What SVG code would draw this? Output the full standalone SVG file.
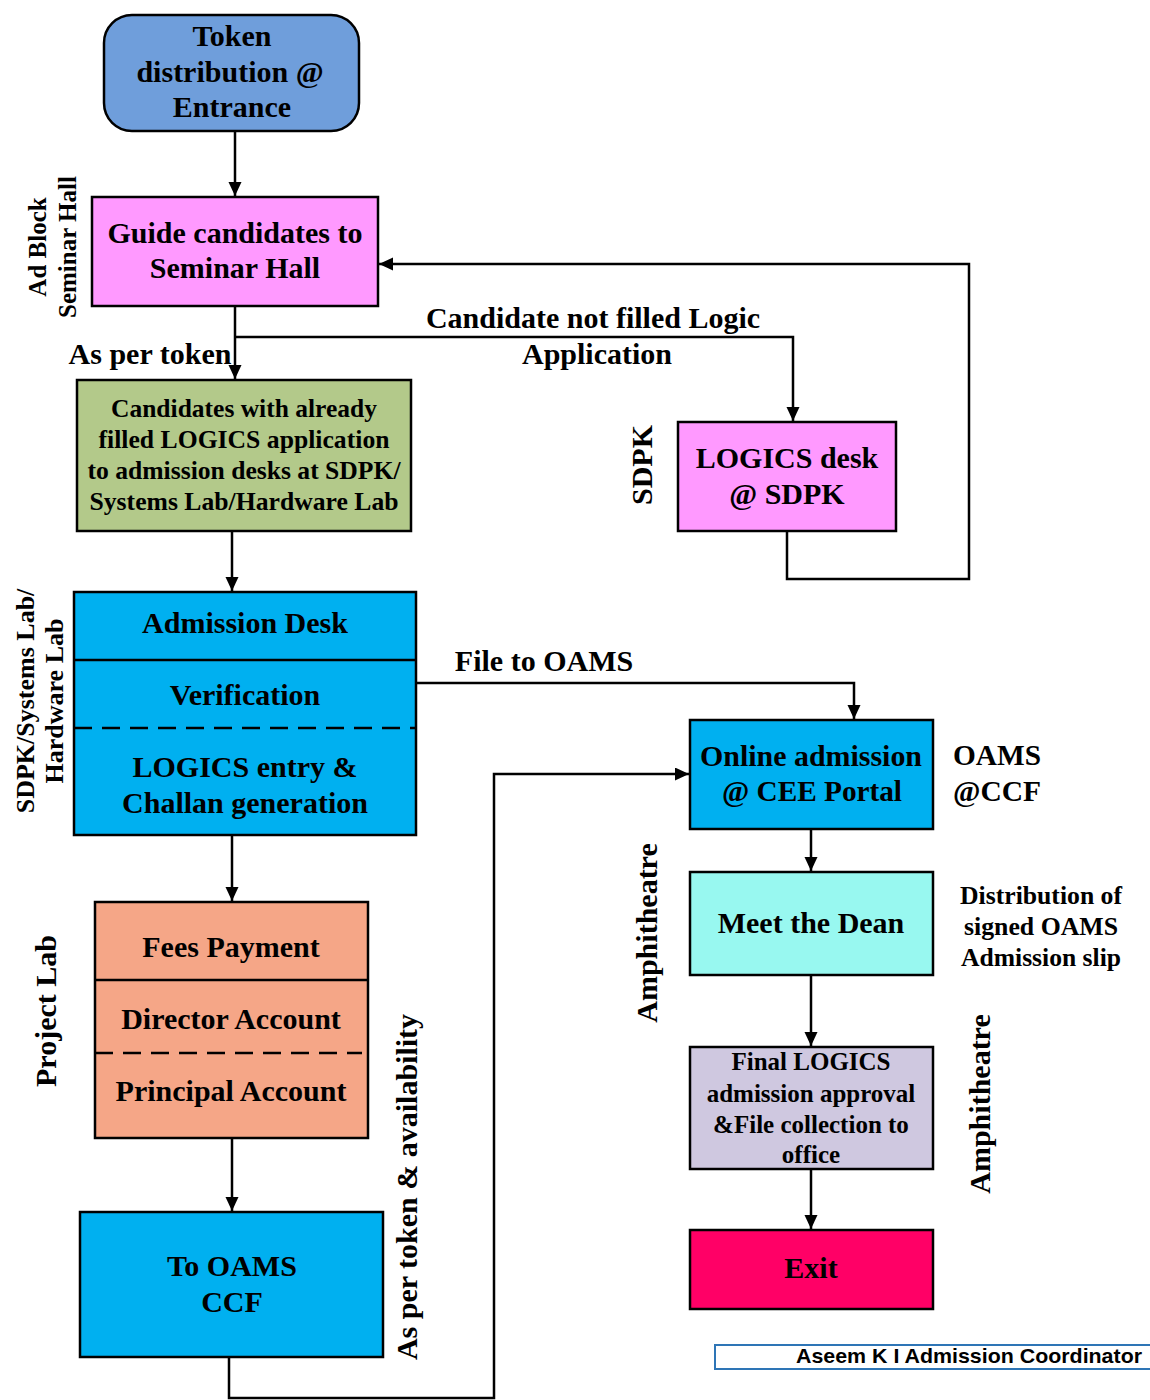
<svg xmlns="http://www.w3.org/2000/svg" width="1150" height="1400" viewBox="0 0 1150 1400">
<style>
.t{font-family:"Liberation Serif","Times New Roman",serif;font-weight:bold;fill:#000;text-anchor:middle}
.f30{font-size:30px}
.f25{font-size:25px}
.f26{font-size:26px}
.box{stroke:#000;stroke-width:2.5}
.ln{fill:none;stroke:#000;stroke-width:2.5}
.dash{fill:none;stroke:#000;stroke-width:2.5;stroke-dasharray:18 10}
.lab{font-family:"Liberation Serif","Times New Roman",serif;font-weight:bold;fill:#000;text-anchor:middle}
</style>
<defs>
<marker id="ah" markerUnits="userSpaceOnUse" markerWidth="15" markerHeight="14" refX="14" refY="6.5" orient="auto">
<path d="M0,0 L14,6.5 L0,13 z" fill="#000"/>
</marker>
</defs>
<rect width="1150" height="1400" fill="#fff"/>

<g id="connectors">
<line class="ln" x1="235" y1="131" x2="235" y2="196" marker-end="url(#ah)"/>
<line class="ln" x1="235" y1="306" x2="235" y2="379" marker-end="url(#ah)"/>
<polyline class="ln" points="235,337 793,337 793,421" marker-end="url(#ah)"/>
<polyline class="ln" points="787,531 787,579 969,579 969,264 379,264" marker-end="url(#ah)"/>
<line class="ln" x1="232" y1="531" x2="232" y2="591" marker-end="url(#ah)"/>
<polyline class="ln" points="416,683 854,683 854,719" marker-end="url(#ah)"/>
<line class="ln" x1="232" y1="835" x2="232" y2="901" marker-end="url(#ah)"/>
<line class="ln" x1="232" y1="1138" x2="232" y2="1211" marker-end="url(#ah)"/>
<polyline class="ln" points="229,1357 229,1398 494,1398 494,774 689,774" marker-end="url(#ah)"/>
<line class="ln" x1="811" y1="829" x2="811" y2="871" marker-end="url(#ah)"/>
<line class="ln" x1="811" y1="975" x2="811" y2="1046" marker-end="url(#ah)"/>
<line class="ln" x1="811" y1="1169" x2="811" y2="1229" marker-end="url(#ah)"/>
<text class="t f30" x="593" y="328">Candidate not filled Logic</text>
<text class="t f30" x="597" y="364">Application</text>
<text class="t f30" x="150" y="364">As per token</text>
<text class="t f30" x="544" y="671">File to OAMS</text>
<text class="lab f30" transform="translate(417,1187) rotate(-90)">As per token &amp; availability</text>
</g>

<g id="token">
<rect class="box" x="104" y="15" width="255" height="116" rx="28" fill="#6f9edb"/>
<text class="t f30" x="232" y="46">Token</text>
<text class="t f30" x="230" y="82">distribution @</text>
<text class="t f30" x="232" y="117">Entrance</text>
</g>

<g id="guide">
<rect class="box" x="92" y="197" width="286" height="109" fill="#ff99ff"/>
<text class="t f30" x="235" y="243">Guide candidates to</text>
<text class="t f30" x="235" y="278">Seminar Hall</text>
<text class="lab f25" transform="translate(46,247) rotate(-90)">Ad Block</text>
<text class="lab f25" transform="translate(76,247) rotate(-90)">Seminar Hall</text>
</g>

<g id="filled">
<rect class="box" x="77" y="380" width="334" height="151" fill="#b3c98a"/>
<text class="t f25" x="244" y="417" textLength="266" lengthAdjust="spacingAndGlyphs">Candidates with already</text>
<text class="t f25" x="244" y="448" textLength="291" lengthAdjust="spacingAndGlyphs">filled LOGICS application</text>
<text class="t f25" x="244" y="479" textLength="313" lengthAdjust="spacingAndGlyphs">to admission desks at SDPK/</text>
<text class="t f25" x="244" y="510" textLength="309" lengthAdjust="spacingAndGlyphs">Systems Lab/Hardware Lab</text>
</g>

<g id="logicsdesk">
<rect class="box" x="678" y="422" width="218" height="109" fill="#ff99ff"/>
<text class="t f30" x="787" y="468">LOGICS desk</text>
<text class="t f30" x="787" y="504">@ SDPK</text>
<text class="lab f30" transform="translate(652,465) rotate(-90)">SDPK</text>
</g>

<g id="admission">
<rect class="box" x="74" y="592" width="342" height="243" fill="#00b0f0"/>
<line class="ln" x1="74" y1="660" x2="416" y2="660"/>
<line class="dash" x1="74" y1="728" x2="416" y2="728"/>
<text class="t f30" x="245" y="633">Admission Desk</text>
<text class="t f30" x="245" y="705">Verification</text>
<text class="t f30" x="245" y="777">LOGICS entry &amp;</text>
<text class="t f30" x="245" y="813">Challan generation</text>
<text class="lab f26" transform="translate(34,701) rotate(-90)">SDPK/Systems Lab/</text>
<text class="lab f26" transform="translate(63,701) rotate(-90)">Hardware Lab</text>
</g>

<g id="fees">
<rect class="box" x="95" y="902" width="273" height="236" fill="#f5a687"/>
<line class="ln" x1="95" y1="980" x2="368" y2="980"/>
<line class="dash" x1="95" y1="1053" x2="362" y2="1053"/>
<text class="t f30" x="231" y="957">Fees Payment</text>
<text class="t f30" x="231" y="1029">Director Account</text>
<text class="t f30" x="231" y="1101">Principal Account</text>
<text class="lab f30" transform="translate(56,1011) rotate(-90)">Project Lab</text>
</g>

<g id="tooams">
<rect class="box" x="80" y="1212" width="303" height="145" fill="#00b0f0"/>
<text class="t f30" x="232" y="1276">To OAMS</text>
<text class="t f30" x="232" y="1312">CCF</text>
</g>

<g id="online">
<rect class="box" x="690" y="720" width="243" height="109" fill="#00b0f0"/>
<text class="t f30" x="811" y="766" textLength="222" lengthAdjust="spacingAndGlyphs">Online admission</text>
<text class="t f30" x="812" y="801" textLength="180" lengthAdjust="spacingAndGlyphs">@ CEE Portal</text>
<text class="t f30" x="997" y="765" textLength="88" lengthAdjust="spacingAndGlyphs">OAMS</text>
<text class="t f30" x="997" y="801" textLength="88" lengthAdjust="spacingAndGlyphs">@CCF</text>
</g>

<g id="dean">
<rect class="box" x="690" y="872" width="243" height="103" fill="#98f8f0"/>
<text class="t f30" x="811" y="933">Meet the Dean</text>
<text class="t f26" x="1041" y="904" textLength="162" lengthAdjust="spacingAndGlyphs">Distribution of</text>
<text class="t f26" x="1041" y="935" textLength="154" lengthAdjust="spacingAndGlyphs">signed OAMS</text>
<text class="t f26" x="1041" y="966" textLength="160" lengthAdjust="spacingAndGlyphs">Admission slip</text>
<text class="lab f30" transform="translate(657,933) rotate(-90)">Amphitheatre</text>
</g>

<g id="final">
<rect class="box" x="690" y="1047" width="243" height="122" fill="#cfc8e0"/>
<text class="t f25" x="811" y="1070">Final LOGICS</text>
<text class="t f25" x="811" y="1102">admission approval</text>
<text class="t f25" x="811" y="1133">&amp;File collection to</text>
<text class="t f25" x="811" y="1163">office</text>
<text class="lab f30" transform="translate(990,1104) rotate(-90)">Amphitheatre</text>
</g>

<g id="exit">
<rect class="box" x="690" y="1230" width="243" height="79" fill="#ff0066"/>
<text class="t f30" x="811" y="1278">Exit</text>
</g>

<g id="footer">
<rect x="715" y="1345" width="440" height="24" fill="#fff" stroke="#2e75b6" stroke-width="2"/>
<text x="796" y="1363" font-family="Liberation Sans, Arial, sans-serif" font-weight="bold" font-size="21" fill="#000" textLength="346" lengthAdjust="spacingAndGlyphs">Aseem K I Admission Coordinator</text>
</g>
</svg>
